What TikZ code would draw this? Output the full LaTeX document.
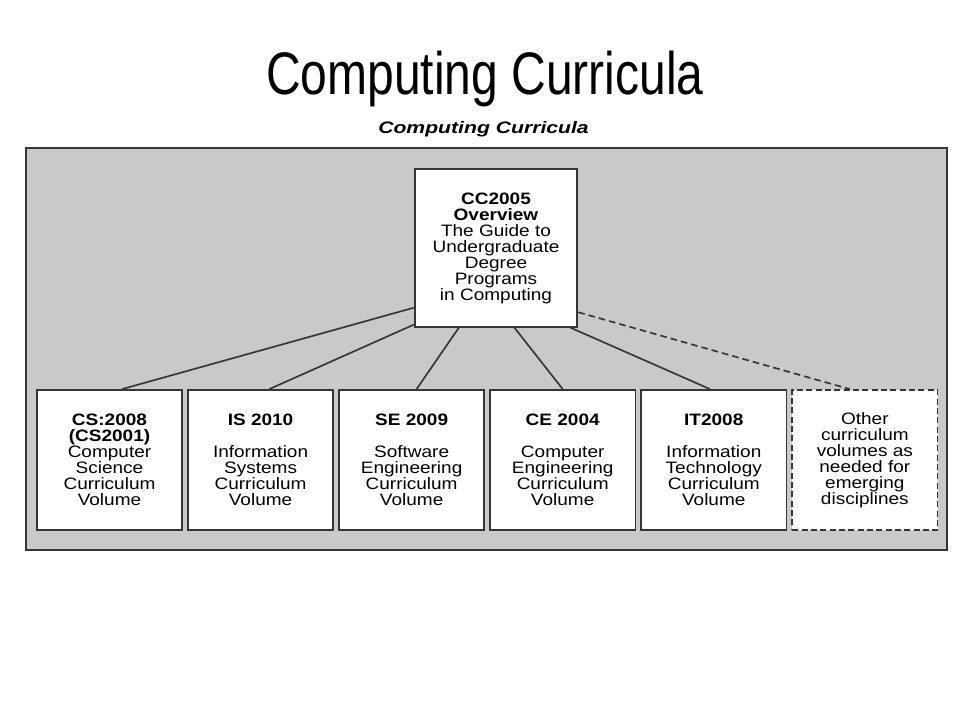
\documentclass[tikz,border=0pt]{standalone}
\usepackage{fontspec}
\setmainfont{Liberation Sans}
\newfontfamily\boxfont[FakeStretch=1.15]{Liberation Sans}
\newfontfamily\headfont[FakeStretch=1.27]{Liberation Sans}
\newfontfamily\slidefont[FakeStretch=0.8]{Liberation Sans}
\usetikzlibrary{positioning}
\definecolor{panelgrey}{HTML}{C9C9C9}
\definecolor{inkgrey}{HTML}{363636}

\tikzset{
  volume/.style={draw=inkgrey, line width=1.3pt, fill=white, align=center,
    minimum width=109pt, minimum height=105pt, inner sep=2pt,
    font={\boxfont\fontsize{12.4pt}{12pt}\selectfont}},
  overview/.style={volume, minimum width=122pt, minimum height=118pt},
  othervol/.style={volume, dash pattern=on 4.5pt off 2.5pt},
  link/.style={draw=inkgrey, line width=1.25pt}
}

\begin{document}
\begin{tikzpicture}[x=0.75pt, y=-0.75pt]
 \useasboundingbox (0,0) rectangle (960,720);
 \node[anchor=base, font={\slidefont\fontsize{45pt}{50pt}\selectfont}] (slidetitle) at (485,95) {Computing Curricula};
 \draw[fill=panelgrey, draw=inkgrey, line width=1.3pt] (26,148) rectangle (947,550);
 \node[anchor=base, font={\headfont\fontsize{12.5pt}{14pt}\selectfont\bfseries\itshape}] (heading) at (483.5,134) {Computing Curricula};

 \node[overview] (cc) at (496,248)
  {\textbf{CC2005}\\\textbf{Overview}\\The Guide to\\Undergraduate\\Degree\\Programs\\in Computing};

 \node[volume] (cs) at (109.5,460) {\textbf{CS:2008}\\\textbf{(CS2001)}\\Computer\\Science\\Curriculum\\Volume};
 \node[volume, right=3pt of cs] (is) {\textbf{IS 2010}\\[12pt]Information\\Systems\\Curriculum\\Volume};
 \node[volume, right=3pt of is] (se) {\textbf{SE 2009}\\[12pt]Software\\Engineering\\Curriculum\\Volume};
 \node[volume, right=3pt of se] (ce) {\textbf{CE 2004}\\[12pt]Computer\\Engineering\\Curriculum\\Volume};
 \node[volume, right=3pt of ce] (it) {\textbf{IT2008}\\[12pt]Information\\Technology\\Curriculum\\Volume};
 \node[othervol, right=3pt of it] (other) {Other\\curriculum\\volumes as\\needed for\\emerging\\disciplines};

 \path[link]
  (cc.216) edge (cs.80)
  (cc.223) edge (is.83)
  (cc.245) edge (se.86)
  (cc.283) edge (ce.north)
  (cc.313) edge (it.93)
  (cc.322) edge[dash pattern=on 5pt off 3pt] (other.102)
 ;
\end{tikzpicture}
\end{document}
